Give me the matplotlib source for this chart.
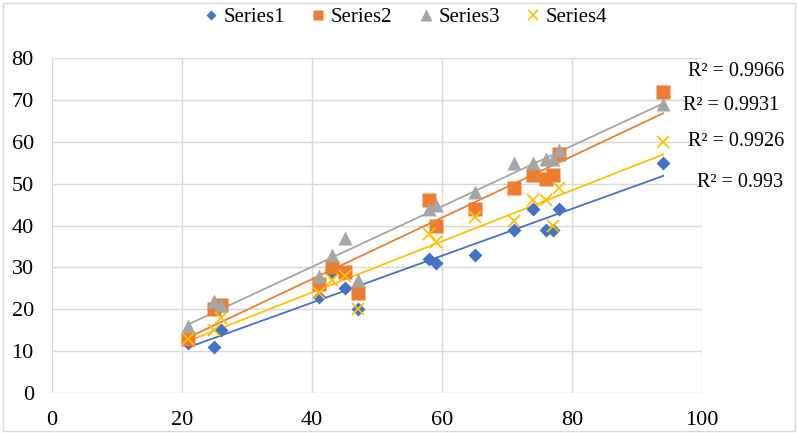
import numpy as np
import matplotlib.pyplot as plt
from matplotlib.patches import Rectangle

plt.rcParams['font.family'] = ['Liberation Serif', 'DejaVu Serif']

x = [21, 25, 26, 41, 43, 45, 47, 58, 59, 65, 71, 74, 76, 77, 78, 94]
s1 = [12, 11, 15, 23, 29, 25, 20, 32, 31, 33, 39, 44, 39, 39, 44, 55]
s2 = [13, 20, 21, 26, 30, 29, 24, 46, 40, 44, 49, 52, 51, 52, 57, 72]
s3 = [16, 22, 21, 28, 33, 37, 27, 44, 45, 48, 55, 55, 56, 56, 58, 69]
s4 = [13, 15, 18, 24, 27, 28, 20, 38, 36, 42, 41, 46, 46, 40, 49, 60]
names = ['Series1', 'Series2', 'Series3', 'Series4']
r2_labels = ['R² = 0.993', 'R² = 0.9966', 'R² = 0.9931', 'R² = 0.9926']
xticks = [0, 20, 40, 60, 80, 100]
yticks = [0, 10, 20, 30, 40, 50, 60, 70, 80]

colors = ['#4472C4', '#ED7D31', '#A5A5A5', '#FFC000']
markers = ['D', 's', '^', 'x']
msizes = [7, 9.5, 10, 9]

fig = plt.figure(figsize=(7.98, 4.33), dpi=100)
ax = fig.add_axes([0.065, 0.0924, 0.815, 0.7736])

xs = np.array(x)
handles = []
for i, ys in enumerate([s1, s2, s3, s4]):
    # linear trend line, like Excel
    k, b = np.polyfit(xs, ys, 1)
    xl = np.array([xs.min(), xs.max()])
    ax.plot(xl, k * xl + b, color=colors[i], lw=1.3, zorder=2)
    if markers[i] == 'x':
        h, = ax.plot(xs, ys, ls='none', marker='x', ms=msizes[i], mew=1.3,
                     color=colors[i], label=names[i], zorder=3)
    else:
        h, = ax.plot(xs, ys, ls='none', marker=markers[i], ms=msizes[i],
                     mec='none', color=colors[i], label=names[i], zorder=3)
    handles.append(h)

ax.set_xlim(0, 100)
ax.set_ylim(0, 80)
ax.set_xticks(xticks)
ax.set_yticks(yticks)
ax.grid(True, color='#D9D9D9', lw=1)
ax.set_axisbelow(True)
for sp in ax.spines.values():
    sp.set_visible(False)
ax.tick_params(length=0, labelsize=16, pad=13)

# R² texts, in figure pixels
txt_pos = [(740, 182), (736, 71), (731, 105), (736, 141)]
for lab, (px, py) in zip(r2_labels, txt_pos):
    fig.text(px / 798, 1 - py / 433, lab, fontsize=14.5, ha='center', va='center')

fig.legend(handles=handles, loc='center', bbox_to_anchor=(405 / 798, 1 - 17 / 433),
           ncol=4, frameon=False, fontsize=15, handlelength=0.8, handletextpad=0.2,
           columnspacing=1.2, markerscale=0.8)

fig.patches.append(Rectangle((0.004, 0.004), 0.992, 0.99, transform=fig.transFigure,
                             fill=False, edgecolor='#D9D9D9', lw=1))

fig.savefig('out.png', dpi=100)
